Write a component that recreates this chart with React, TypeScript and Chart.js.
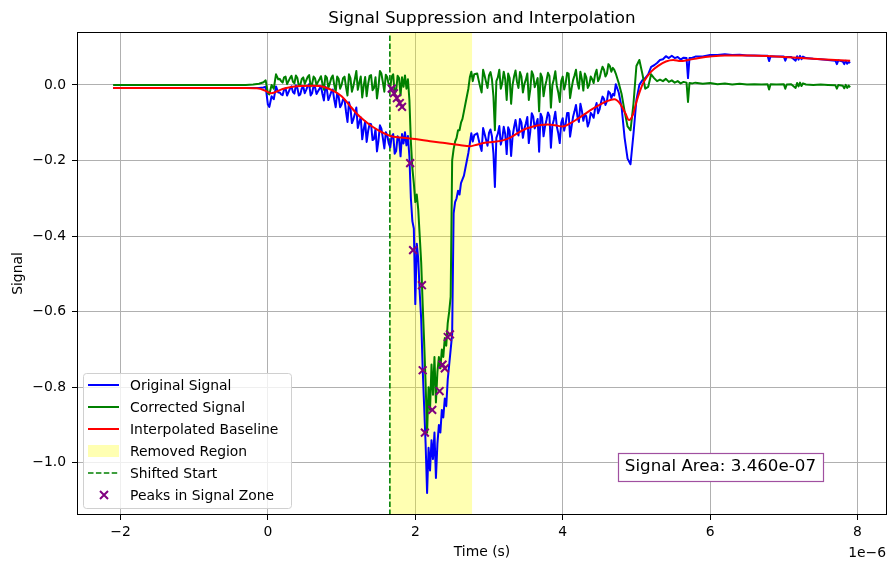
import React, { useEffect, useRef } from 'react';
import { Chart, registerables } from 'chart.js';

Chart.register(...registerables);

// ---------------- data (time in units of 1e-6 s) ----------------
const sampleTimes = [
  // before the pulse
  -2.1, -1.5, -1.0, -0.5, -0.3, -0.2, -0.12, -0.06, -0.03, 0.0, 0.02, 0.05, 0.08, 0.11, 0.14,
  // 0.16 .. 1.80
  0.16, 0.18, 0.20, 0.22, 0.24, 0.26, 0.28, 0.30, 0.32, 0.34,
  0.36, 0.38, 0.40, 0.42, 0.44, 0.46, 0.48, 0.50, 0.52, 0.54,
  0.56, 0.58, 0.60, 0.62, 0.64, 0.66, 0.68, 0.70, 0.72, 0.74,
  0.76, 0.78, 0.80, 0.82, 0.84, 0.86, 0.88, 0.90, 0.92, 0.94,
  0.96, 0.98, 1.00, 1.02, 1.04, 1.06, 1.08, 1.10, 1.12, 1.14,
  1.16, 1.18, 1.20, 1.22, 1.24, 1.26, 1.28, 1.30, 1.32, 1.34,
  1.36, 1.38, 1.40, 1.42, 1.44, 1.46, 1.48, 1.50, 1.52, 1.54,
  1.56, 1.58, 1.60, 1.62, 1.64, 1.66, 1.68, 1.70, 1.72, 1.74,
  1.76, 1.78, 1.80,
  // 1.82 .. 2.80 (removed region)
  1.82, 1.84, 1.86, 1.88, 1.90, 1.92, 1.94, 1.96, 1.98, 2.00,
  2.02, 2.04, 2.06, 2.08, 2.10, 2.12, 2.14, 2.16, 2.18, 2.20,
  2.22, 2.24, 2.26, 2.28, 2.30, 2.32, 2.34, 2.36, 2.38, 2.40,
  2.42, 2.44, 2.46, 2.48, 2.50, 2.52, 2.54, 2.56, 2.58, 2.60,
  2.62, 2.64, 2.66, 2.68, 2.70, 2.72, 2.74, 2.76, 2.78, 2.80,
  // 2.84 .. 4.72
  2.84, 2.86, 2.88, 2.90, 2.92, 2.94, 2.96, 2.98, 3.00, 3.02,
  3.04, 3.06, 3.08, 3.10, 3.12, 3.14, 3.16, 3.18, 3.20, 3.22,
  3.24, 3.26, 3.28, 3.30, 3.32, 3.34, 3.36, 3.38, 3.40, 3.42,
  3.44, 3.46, 3.48, 3.50, 3.52, 3.54, 3.56, 3.58, 3.60, 3.62,
  3.64, 3.66, 3.68, 3.70, 3.72, 3.74, 3.76, 3.78, 3.80, 3.82,
  3.84, 3.86, 3.88, 3.90, 3.92, 3.94, 3.96, 3.98, 4.00, 4.02,
  4.04, 4.06, 4.08, 4.10, 4.12, 4.14, 4.16, 4.18, 4.20, 4.22,
  4.24, 4.26, 4.28, 4.30, 4.32, 4.34, 4.36, 4.38, 4.40, 4.42,
  4.44, 4.46, 4.48, 4.50, 4.52, 4.54, 4.56, 4.58, 4.60, 4.62,
  4.64, 4.66, 4.68, 4.70, 4.72,
  // 4.76 .. 5.72
  4.76, 4.80, 4.84, 4.88, 4.92, 4.96, 5.00, 5.04, 5.08, 5.12,
  5.16, 5.20, 5.24, 5.28, 5.32, 5.36, 5.40, 5.44, 5.48, 5.52,
  5.56, 5.60, 5.64, 5.68, 5.70, 5.72,
  // tail
  5.76, 5.80, 5.90, 6.00, 6.10, 6.20, 6.30, 6.40, 6.50, 6.60,
  6.70, 6.78, 6.80, 6.82, 6.90, 7.00, 7.02, 7.04, 7.10, 7.16,
  7.18, 7.20, 7.22, 7.24, 7.26, 7.30, 7.40, 7.50, 7.60, 7.70,
  7.72, 7.74, 7.80, 7.82, 7.84, 7.86, 7.88, 7.90,
];

const originalSignal = [
  -0.008, -0.008, -0.008, -0.008, -0.008, -0.008, -0.008, -0.007, -0.005, -0.052, -0.058, -0.030, -0.038, -0.004, -0.020,
  -0.020, -0.025, -0.027, -0.012, -0.009, -0.028, -0.019, -0.010, -0.004, -0.019,
  -0.023, -0.001, -0.008, -0.028, -0.025, -0.009, -0.005, -0.022, -0.013, -0.003,
  0.002, -0.028, -0.022, -0.002, -0.007, -0.024, -0.017, -0.010, -0.003, -0.024,
  -0.041, -0.005, -0.011, -0.040, -0.030, -0.018, -0.012, -0.039, -0.059, -0.022,
  -0.031, -0.059, -0.052, -0.038, -0.039, -0.071, -0.098, -0.046, -0.061, -0.101,
  -0.091, -0.076, -0.060, -0.114, -0.098, -0.086, -0.144, -0.117, -0.097, -0.151,
  -0.122, -0.103, -0.104, -0.146, -0.143, -0.117, -0.176, -0.148, -0.107, -0.116,
  -0.141, -0.168, -0.125, -0.134, -0.155, -0.165, -0.136, -0.130, -0.182, -0.175,
  -0.136, -0.142, -0.189,
  -0.130, -0.155, -0.125, -0.160, -0.135, -0.190, -0.300, -0.360, -0.380, -0.580,
  -0.420, -0.460, -0.550, -0.620, -0.750, -0.850, -0.950, -1.080, -0.960, -1.020,
  -0.940, -0.990, -0.920, -1.040, -0.950, -0.900, -0.920, -0.860, -0.880, -0.830,
  -0.850, -0.780, -0.740, -0.700, -0.660, -0.340, -0.310, -0.300, -0.280, -0.290,
  -0.260, -0.250, -0.240, -0.220, -0.200, -0.180, -0.155, -0.128, -0.150, -0.133,
  -0.128, -0.145, -0.161, -0.175, -0.114, -0.129, -0.145, -0.161, -0.127, -0.118,
  -0.136, -0.181, -0.270, -0.140, -0.129, -0.109, -0.158, -0.142, -0.111, -0.130,
  -0.183, -0.112, -0.122, -0.188, -0.136, -0.112, -0.093, -0.121, -0.134, -0.090,
  -0.100, -0.140, -0.116, -0.102, -0.085, -0.154, -0.124, -0.075, -0.084, -0.115,
  -0.103, -0.090, -0.177, -0.076, -0.086, -0.136, -0.110, -0.093, -0.073, -0.082,
  -0.166, -0.107, -0.092, -0.071, -0.110, -0.128, -0.154, -0.100, -0.088, -0.121,
  -0.103, -0.074, -0.074, -0.137, -0.110, -0.085, -0.070, -0.053, -0.084, -0.098,
  -0.050, -0.068, -0.095, -0.077, -0.083, -0.110, -0.098, -0.074, -0.079, -0.087,
  -0.062, -0.048, -0.075, -0.065, -0.046, -0.031, -0.037, -0.053, -0.043, -0.017,
  -0.021, -0.035, -0.024, -0.028, 0.002,
  -0.020, -0.060, -0.140, -0.195, -0.210, -0.130, -0.040, 0.000, 0.012, 0.018,
  0.028, 0.048, 0.052, 0.058, 0.066, 0.068, 0.076, 0.071, 0.077, 0.071,
  0.074, 0.067, 0.072, 0.071, 0.018, 0.071,
  0.072, 0.075, 0.075, 0.079, 0.079, 0.081, 0.079, 0.080, 0.078, 0.078,
  0.077, 0.077, 0.063, 0.076, 0.075, 0.075, 0.064, 0.074, 0.074, 0.064,
  0.076, 0.067, 0.077, 0.068, 0.075, 0.071, 0.069, 0.068, 0.066, 0.064,
  0.055, 0.065, 0.062, 0.055, 0.064, 0.056, 0.061, 0.058,
];

const correctedSignal = [
  0.0, 0.0, 0.0, 0.0, 0.0, 0.001, 0.003, 0.007, 0.012, -0.022, -0.025, 0.000, -0.010, 0.028, 0.015,
  0.016, 0.010, 0.006, 0.020, 0.022, 0.002, 0.010, 0.018, 0.024, 0.008,
  0.004, 0.025, 0.018, -0.003, 0.000, 0.016, 0.020, 0.003, 0.012, 0.021,
  0.026, -0.004, 0.002, 0.022, 0.017, 0.000, 0.008, 0.015, 0.023, 0.003,
  -0.013, 0.024, 0.019, -0.008, 0.004, 0.018, 0.025, 0.000, -0.018, 0.022,
  0.016, -0.010, 0.000, 0.018, 0.022, -0.006, -0.028, 0.028, 0.018, -0.018,
  -0.003, 0.016, 0.037, -0.013, 0.006, 0.022, -0.033, -0.002, 0.021, -0.030,
  0.002, 0.024, 0.026, -0.014, -0.008, 0.020, -0.036, -0.006, 0.037, 0.030,
  0.007, -0.018, 0.027, 0.020, 0.000, -0.008, 0.022, 0.028, -0.023, -0.016,
  0.024, 0.018, -0.028,
  0.020, -0.005, 0.025, -0.010, 0.015, -0.040, -0.150, -0.220, -0.260, -0.310,
  -0.290, -0.330, -0.400, -0.470, -0.580, -0.680, -0.790, -0.920, -0.800, -0.860,
  -0.740, -0.820, -0.720, -0.840, -0.760, -0.720, -0.750, -0.700, -0.720, -0.670,
  -0.690, -0.630, -0.600, -0.560, -0.200, -0.170, -0.150, -0.140, -0.120, -0.120,
  -0.100, -0.090, -0.070, -0.050, -0.030, -0.010, 0.020, 0.035, 0.010, 0.028,
  0.030, 0.012, -0.005, -0.020, 0.040, 0.025, 0.008, -0.008, 0.025, 0.034,
  0.015, -0.030, -0.120, 0.010, 0.020, 0.040, -0.010, 0.005, 0.035, 0.015,
  -0.040, 0.030, 0.018, -0.050, 0.000, 0.022, 0.038, 0.008, -0.008, 0.034,
  0.022, -0.020, 0.002, 0.014, 0.030, -0.040, -0.012, 0.036, 0.026, -0.006,
  0.005, 0.018, -0.070, 0.030, 0.020, -0.030, -0.005, 0.012, 0.032, 0.024,
  -0.060, 0.000, 0.015, 0.036, -0.002, -0.020, -0.045, 0.010, 0.022, -0.012,
  0.004, 0.032, 0.030, -0.035, -0.010, 0.012, 0.025, 0.040, 0.006, -0.010,
  0.035, 0.015, -0.015, 0.030, 0.020, -0.008, 0.000, 0.022, 0.015, 0.005,
  0.028, 0.040, 0.010, 0.018, 0.035, 0.048, 0.040, 0.022, 0.030, 0.055,
  0.050, 0.035, 0.045, 0.040, 0.030,
  0.005, -0.025, -0.070, -0.110, -0.120, -0.050, 0.050, 0.066, 0.030, -0.010,
  -0.005, 0.028, 0.018, 0.010, 0.014, 0.010, 0.016, 0.008, 0.012, 0.006,
  0.010, 0.004, 0.008, 0.006, -0.045, 0.005,
  0.004, 0.006, 0.003, 0.005, 0.002, 0.004, 0.001, 0.003, 0.001, 0.002,
  0.001, 0.002, -0.012, 0.002, 0.001, 0.002, -0.010, 0.001, 0.002, -0.008,
  0.005, -0.004, 0.006, -0.003, 0.004, 0.001, 0.000, 0.001, 0.000, -0.001,
  -0.010, 0.000, -0.002, -0.009, 0.000, -0.008, -0.002, -0.006,
];

const baselineTimes = [
  -2.1, -0.3, -0.15, -0.05, 0.0, 0.05, 0.1, 0.2, 0.3, 0.45,
  0.6, 0.7, 0.8, 0.9, 1.0, 1.1, 1.2, 1.3, 1.4, 1.5,
  1.6, 1.66, 1.8, 2.0, 2.2, 2.4, 2.6, 2.74, 2.8, 2.9,
  3.0, 3.1, 3.2, 3.3, 3.4, 3.5, 3.6, 3.7, 3.8, 3.9,
  4.0, 4.1, 4.2, 4.3, 4.4, 4.5, 4.6, 4.7, 4.78, 4.85,
  4.9, 4.95, 5.0, 5.05, 5.1, 5.2, 5.3, 5.4, 5.5, 5.6,
  5.7, 5.85, 6.0, 6.2, 6.5, 7.0, 7.5, 7.9,
];
const baselineValues = [
  -0.008, -0.008, -0.009, -0.014, -0.019, -0.022, -0.019, -0.011, -0.006, -0.003,
  -0.002, -0.003, -0.008, -0.017, -0.030, -0.052, -0.075, -0.093, -0.108, -0.120,
  -0.130, -0.135, -0.139, -0.143, -0.149, -0.154, -0.159, -0.162, -0.160, -0.155,
  -0.152, -0.150, -0.146, -0.138, -0.126, -0.116, -0.110, -0.106, -0.105, -0.107,
  -0.110, -0.102, -0.090, -0.077, -0.064, -0.053, -0.043, -0.038, -0.050, -0.075,
  -0.093, -0.080, -0.045, -0.015, 0.008, 0.035, 0.051, 0.062, 0.066, 0.063,
  0.066, 0.071, 0.075, 0.078, 0.078, 0.074, 0.068, 0.064,
];

const peakTimes = [1.68, 1.71, 1.75, 1.79, 1.82, 1.93, 1.97, 2.09, 2.10, 2.13, 2.23, 2.33, 2.37, 2.40, 2.44, 2.47];
const peakValues = [-0.010, -0.022, -0.035, -0.048, -0.058, -0.207, -0.437, -0.530, -0.755, -0.920, -0.860, -0.810, -0.740, -0.750, -0.667, -0.660];

const xTickValues = [-2, 0, 2, 4, 6, 8];
const yTickValues = [-1.0, -0.8, -0.6, -0.4, -0.2, 0.0];
const xRange = [-2.59, 8.40];
const yRange = [-1.138, 0.140];
const removedRegion = [1.655, 2.77];
const shiftedStart = 1.655;
const signalAreaText = '3.460e-07';

// ---------------- styles ----------------
const FONT = "'DejaVu Sans', sans-serif";
const SMALL = 13.9;
const LARGE = 16.7;
const BLUE = '#0000ff';
const GREEN = '#008000';
const RED = '#ff0000';
const PURPLE = '#800080';
const YELLOW = 'rgba(255,255,0,0.3)';

const toPoints = (xs: number[], ys: number[]) => xs.map((x, i) => ({ x, y: ys[i] }));
const minus = (s: string) => s.replace('-', '\u2212');

const decorPlugin = {
  id: 'decor',
  beforeDatasetsDraw(chart: any) {
    const { ctx, chartArea, scales } = chart;
    const { top, bottom } = chartArea;
    const x0 = scales.x.getPixelForValue(removedRegion[0]);
    const x1 = scales.x.getPixelForValue(removedRegion[1]);
    ctx.save();
    ctx.fillStyle = YELLOW;
    ctx.fillRect(x0, top, x1 - x0, bottom - top);
    const xs = scales.x.getPixelForValue(shiftedStart);
    ctx.strokeStyle = GREEN;
    ctx.lineWidth = 1.6;
    ctx.setLineDash([5.5, 2.4]);
    ctx.beginPath();
    ctx.moveTo(xs, bottom);
    ctx.lineTo(xs, top);
    ctx.stroke();
    ctx.restore();
  },
  afterDraw(chart: any) {
    const { ctx, chartArea } = chart;
    const { left, right, top, bottom } = chartArea;
    ctx.save();
    // frame
    ctx.strokeStyle = '#000';
    ctx.lineWidth = 1;
    ctx.strokeRect(Math.round(left) + 0.5, Math.round(top) + 0.5, Math.round(right - left) - 1, Math.round(bottom - top) - 1);

    // title
    ctx.fillStyle = '#000';
    ctx.font = `${LARGE}px ${FONT}`;
    ctx.textAlign = 'center';
    ctx.textBaseline = 'alphabetic';
    ctx.fillText('Signal Suppression and Interpolation', (left + right) / 2, 23);

    // offset text
    ctx.font = `${SMALL}px ${FONT}`;
    ctx.textAlign = 'right';
    ctx.fillText('1e\u22126', right - 1, 557);

    // legend
    const ds = chart.data.datasets;
    const lx = left + 6;
    const lw = 208;
    const lh = 135;
    const ly = bottom - 7 - lh;
    ctx.beginPath();
    if (ctx.roundRect) ctx.roundRect(lx + 0.5, ly + 0.5, lw, lh, 3);
    else ctx.rect(lx + 0.5, ly + 0.5, lw, lh);
    ctx.fillStyle = 'rgba(255,255,255,0.8)';
    ctx.fill();
    ctx.strokeStyle = '#d0d0d0';
    ctx.lineWidth = 1;
    ctx.stroke();

    const entries = [
      { label: ds[0].label, kind: 'line', color: BLUE },
      { label: ds[1].label, kind: 'line', color: GREEN },
      { label: ds[2].label, kind: 'line', color: RED },
      { label: 'Removed Region', kind: 'patch', color: YELLOW },
      { label: 'Shifted Start', kind: 'dash', color: GREEN },
      { label: ds[3].label, kind: 'marker', color: PURPLE },
    ];
    ctx.textAlign = 'left';
    ctx.font = `${SMALL}px ${FONT}`;
    entries.forEach((e, i) => {
      const cy = ly + 12 + 22 * i;
      const hx0 = lx + 5;
      const hx1 = lx + 36;
      ctx.save();
      if (e.kind === 'line' || e.kind === 'dash') {
        ctx.strokeStyle = e.color;
        ctx.lineWidth = e.kind === 'dash' ? 1.6 : 2;
        if (e.kind === 'dash') ctx.setLineDash([5.5, 2.4]);
        ctx.beginPath();
        ctx.moveTo(hx0, cy);
        ctx.lineTo(hx1, cy);
        ctx.stroke();
      } else if (e.kind === 'patch') {
        ctx.fillStyle = e.color;
        ctx.fillRect(hx0, cy - 6, hx1 - hx0, 12);
      } else {
        const mx = lx + 21;
        const r = 4;
        ctx.strokeStyle = e.color;
        ctx.lineWidth = 2;
        ctx.beginPath();
        ctx.moveTo(mx - r, cy - r);
        ctx.lineTo(mx + r, cy + r);
        ctx.moveTo(mx - r, cy + r);
        ctx.lineTo(mx + r, cy - r);
        ctx.stroke();
      }
      ctx.restore();
      ctx.fillStyle = '#000';
      ctx.fillText(e.label, lx + 47, cy + 4.5);
    });

    // signal area box
    ctx.font = `${LARGE}px ${FONT}`;
    const txt = `Signal Area: ${signalAreaText}`;
    const tw = ctx.measureText(txt).width;
    const bw = tw + 14;
    const bh = 28;
    const bx = right - 64 - bw;
    const by = bottom - 62;
    ctx.fillStyle = '#fff';
    ctx.fillRect(bx, by, bw, bh);
    ctx.strokeStyle = '#a050a0';
    ctx.lineWidth = 1.2;
    ctx.strokeRect(Math.round(bx) + 0.5, Math.round(by) + 0.5, Math.round(bw), bh);
    ctx.fillStyle = '#000';
    ctx.textAlign = 'left';
    ctx.fillText(txt, bx + 7, by + 18);
    ctx.restore();
  },
};

export default function App() {
  const ref = useRef<HTMLCanvasElement>(null);

  useEffect(() => {
    if (!ref.current) return;
    const chart = new Chart(ref.current, {
      type: 'line',
      data: {
        datasets: [
          {
            label: 'Original Signal',
            data: toPoints(sampleTimes, originalSignal),
            borderColor: BLUE,
            backgroundColor: BLUE,
            borderWidth: 2,
            pointRadius: 0,
            order: 3,
          },
          {
            label: 'Corrected Signal',
            data: toPoints(sampleTimes, correctedSignal),
            borderColor: GREEN,
            backgroundColor: GREEN,
            borderWidth: 2,
            pointRadius: 0,
            order: 2,
          },
          {
            label: 'Interpolated Baseline',
            data: toPoints(baselineTimes, baselineValues),
            borderColor: RED,
            backgroundColor: RED,
            borderWidth: 2,
            pointRadius: 0,
            cubicInterpolationMode: 'monotone',
            order: 1,
          },
          {
            label: 'Peaks in Signal Zone',
            data: toPoints(peakTimes, peakValues),
            showLine: false,
            borderColor: PURPLE,
            backgroundColor: PURPLE,
            pointStyle: 'crossRot',
            pointRadius: 5.5,
            pointBorderWidth: 2,
            pointBorderColor: PURPLE,
            order: 0,
          },
        ],
      },
      options: {
        animation: false,
        responsive: true,
        maintainAspectRatio: false,
        devicePixelRatio: 1,
        events: [],
        layout: { autoPadding: false, padding: { left: 0, right: 1, top: 32, bottom: 0 } },
        plugins: {
          legend: { display: false },
          tooltip: { enabled: false },
          title: { display: false },
        },
        elements: {
          line: { tension: 0, borderJoinStyle: 'round', borderCapStyle: 'butt' },
        },
        scales: {
          x: {
            type: 'linear',
            min: xRange[0],
            max: xRange[1],
            afterBuildTicks: (s: any) => {
              s.ticks = xTickValues.map((v) => ({ value: v }));
            },
            afterFit: (s: any) => {
              s.height = 47;
              s.paddingLeft = 0;
              s.paddingRight = 0;
            },
            ticks: {
              autoSkip: false,
              maxRotation: 0,
              padding: 4,
              color: '#000',
              font: { family: FONT, size: SMALL },
              callback: (v: any) => minus(String(v)),
            },
            grid: { color: '#b0b0b0', lineWidth: 1, drawTicks: true, tickLength: 5, tickColor: '#000', tickWidth: 1 },
            border: { display: false },
            title: {
              display: true,
              text: 'Time (s)',
              color: '#000',
              font: { family: FONT, size: SMALL },
              padding: { top: 0, bottom: 1 },
            },
          },
          y: {
            type: 'linear',
            min: yRange[0],
            max: yRange[1],
            afterBuildTicks: (s: any) => {
              s.ticks = yTickValues.map((v) => ({ value: v }));
            },
            afterFit: (s: any) => {
              s.width = 77;
              s.paddingTop = 0;
              s.paddingBottom = 0;
            },
            ticks: {
              autoSkip: false,
              padding: 6,
              color: '#000',
              font: { family: FONT, size: SMALL },
              callback: (v: any) => minus(Number(v).toFixed(1)),
            },
            grid: { color: '#b0b0b0', lineWidth: 1, drawTicks: true, tickLength: 5, tickColor: '#000', tickWidth: 1 },
            border: { display: false },
            title: {
              display: true,
              text: 'Signal',
              color: '#000',
              font: { family: FONT, size: SMALL },
              padding: { top: 10, bottom: 0 },
            },
          },
        },
      } as any,
      plugins: [decorPlugin],
    } as any);
    return () => chart.destroy();
  }, []);

  return (
    <div style={{ position: 'fixed', left: 0, top: 0, width: 888, height: 562, background: '#fff' }}>
      <canvas ref={ref} style={{ display: 'block' }} />
    </div>
  );
}
